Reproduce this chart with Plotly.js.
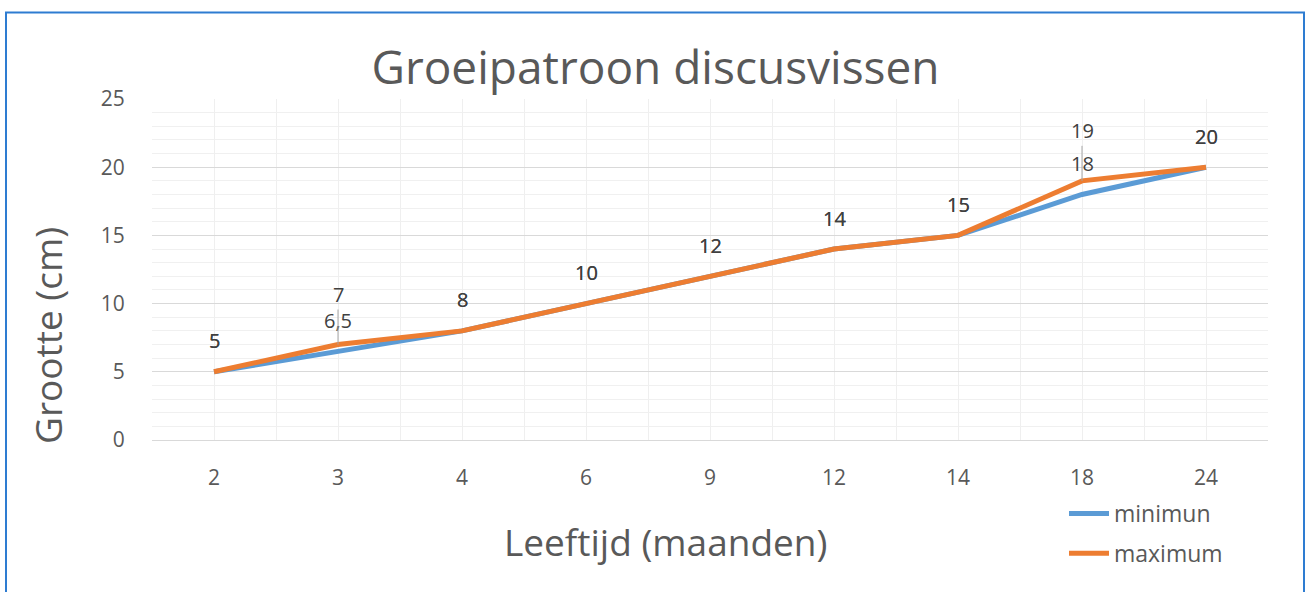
<!DOCTYPE html>
<html>
<head>
<meta charset="utf-8">
<script src="https://cdn.plot.ly/plotly-3.0.1.min.js"></script>
<style>html,body{margin:0;padding:0;background:#fff;}#chart{width:1311px;height:592px;}</style>
</head>
<body>
<div id="chart"></div>
<script>
var categories = ['2', '3', '4', '6', '9', '12', '14', '18', '24'];
var minimum = [5, 6.5, 8, 10, 12, 14, 15, 18, 20];
var maximum = [5, 7, 8, 10, 12, 14, 15, 19, 20];
var minLabels = ['5', '6,5', '8', '10', '12', '14', '15', '18', '20'];
var maxLabels = ['5', '7', '8', '10', '12', '14', '15', '19', '20'];
var seriesNames = ['minimun', 'maximum'];
var titleText = 'Groeipatroon discusvissen';
var xTitle = 'Leeftijd (maanden)';
var yTitle = 'Grootte (cm)';

var idx = categories.map(function (c, i) { return i; });
var FONT = '"Open Sans", "Noto Sans", sans-serif';

var traces = [
  { x: idx, y: minimum, name: seriesNames[0], type: 'scatter', mode: 'lines',
    line: { color: '#5b9bd5', width: 5 }, legendgroup: 'a', hoverinfo: 'x+y' },
  { x: idx, y: maximum, name: seriesNames[1], type: 'scatter', mode: 'lines',
    line: { color: '#ed7d31', width: 5 }, legendgroup: 'b', hoverinfo: 'x+y' }
];

var L = 152, R = 43, T = 99, B = 152, W = 1311, H = 592;
var pw = W - L - R, ph = H - T - B;
function px(xp) { return (xp - L) / pw; }
function py(yp) { return (H - B - yp) / ph; }

var labelFont = { family: FONT, size: 20, color: '#404040' };
var annotations = [];
idx.forEach(function (i) {
  annotations.push({ x: i, y: minimum[i], xref: 'x', yref: 'y', text: minLabels[i],
    showarrow: false, yshift: 31, font: labelFont });
  if (maximum[i] === minimum[i]) {
    annotations.push({ x: i, y: maximum[i], xref: 'x', yref: 'y', text: maxLabels[i],
      showarrow: false, yshift: 31, font: labelFont });
  } else {
    annotations.push({ x: i, y: maximum[i], xref: 'x', yref: 'y', text: maxLabels[i],
      showarrow: true, arrowhead: 0, arrowwidth: 1, arrowcolor: '#a6a6a6', ax: 0, ay: -50,
      standoff: 0, font: labelFont });
  }
});
annotations.push({ xref: 'paper', yref: 'paper', x: px(665), y: py(541), xanchor: 'center', yanchor: 'middle',
  text: xTitle, showarrow: false, font: { family: FONT, size: 37, color: '#595959' } });
annotations.push({ xref: 'paper', yref: 'paper', x: px(47), y: py(336), xanchor: 'center', yanchor: 'middle',
  text: yTitle, textangle: -90, showarrow: false, font: { family: FONT, size: 37, color: '#595959' } });

var boundaries = [];
for (var k = 0; k <= categories.length; k++) boundaries.push(k - 0.5);

var layout = {
  width: W, height: H,
  margin: { l: L, r: R, t: T, b: B },
  paper_bgcolor: '#ffffff', plot_bgcolor: '#ffffff',
  font: { family: FONT, color: '#595959' },
  title: { text: titleText, x: 0.5, xanchor: 'center', y: 1 - 68 / H, yanchor: 'middle',
    font: { family: FONT, size: 46, color: '#595959' } },
  xaxis: {
    range: [-0.5, categories.length - 0.5],
    tickmode: 'array', tickvals: idx, ticktext: categories,
    ticks: 'outside', ticklen: 19, tickcolor: 'rgba(0,0,0,0)',
    showgrid: true, gridcolor: '#efefef', gridwidth: 1,
    minor: { tickmode: 'array', tickvals: boundaries, showgrid: true, gridcolor: '#efefef', gridwidth: 1 },
    zeroline: false, showline: false,
    tickfont: { family: FONT, size: 21, color: '#595959' }
  },
  yaxis: {
    range: [0, 25], dtick: 5, tick0: 0,
    ticks: 'outside', ticklen: 22, tickcolor: 'rgba(0,0,0,0)',
    showgrid: true, gridcolor: '#d9d9d9', gridwidth: 1,
    minor: { dtick: 1, showgrid: true, gridcolor: '#f0f0f0', gridwidth: 1 },
    zeroline: true, zerolinecolor: '#d9d9d9', zerolinewidth: 1, showline: false,
    tickfont: { family: FONT, size: 21, color: '#595959' }
  },
  showlegend: true,
  legend: {
    x: px(1064), y: py(492), xanchor: 'left', yanchor: 'top',
    font: { family: FONT, size: 23, color: '#595959' },
    traceorder: 'grouped', tracegroupgap: 7, bgcolor: 'rgba(0,0,0,0)',
    itemwidth: 40
  },
  annotations: annotations,
  shapes: [
    { type: 'rect', xref: 'paper', yref: 'paper', x0: px(6), x1: px(1304), y0: py(610), y1: py(12.5),
      line: { color: '#2e7cd1', width: 2 }, fillcolor: 'rgba(0,0,0,0)', layer: 'above' }
  ]
};

Plotly.newPlot('chart', traces, layout, { displayModeBar: false, responsive: false });
</script>
</body>
</html>
